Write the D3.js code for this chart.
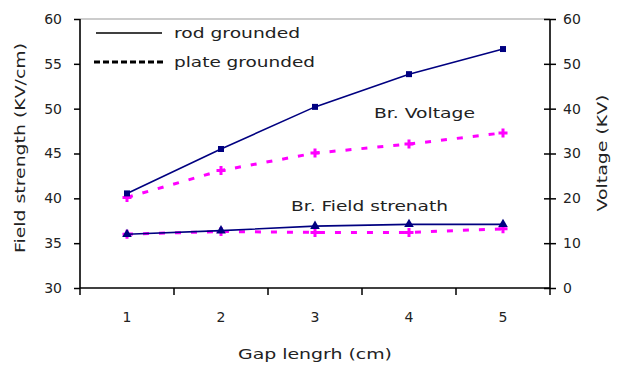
<!DOCTYPE html>
<html><head><meta charset="utf-8">
<script src="https://cdn.jsdelivr.net/npm/d3@7"></script>
<style>body{margin:0;background:#fff}svg{display:block}text{font-family:"DejaVu Sans",Verdana,sans-serif;fill:#222}</style>
</head><body><svg id="c" width="623" height="368"></svg>
<script>
const categories = ["1","2","3","4","5"];
const leftTicks = [30,35,40,45,50,55,60];
const rightTicks = [0,10,20,30,40,50,60];
// Breakdown voltage (KV) - right axis
const voltRod   = [21.1, 31.0, 40.4, 47.7, 53.3];
const voltPlate = [20.2, 26.2, 30.1, 32.1, 34.6];
// Breakdown field strength (KV/cm) - left axis
const fieldRod   = [36.0, 36.4, 36.9, 37.1, 37.1];
const fieldPlate = [36.0, 36.3, 36.2, 36.2, 36.6];

const svg = d3.select("#c");
const L=80, R=550, T=19, B=288;
const x = d3.scaleBand().domain(categories).range([L,R]).padding(0);
const yL = d3.scaleLinear().domain([30,60]).range([B,T]);
const yR = d3.scaleLinear().domain([0,60]).range([B,T]);
const cx = c => x(c)+x.bandwidth()/2;

// top border
svg.append("line").attr("x1",L).attr("x2",R).attr("y1",T).attr("y2",T).attr("stroke","#999").attr("stroke-width",1.2);

// left axis
const gl = svg.append("g").attr("transform",`translate(${L},0)`)
  .call(d3.axisLeft(yL).tickValues(leftTicks).tickSize(6).tickPadding(12).tickFormat(d3.format("d")));
// right axis
const gr = svg.append("g").attr("transform",`translate(${R},0)`)
  .call(d3.axisRight(yR).tickValues(rightTicks).tickSize(6).tickPadding(7).tickFormat(d3.format("d")));
gr.selectAll(".tick line").attr("x1",-6);
// bottom axis (labels at band centres)
const gb = svg.append("g").attr("transform",`translate(0,${B})`)
  .call(d3.axisBottom(x).tickSize(0).tickPadding(0));
gb.selectAll(".tick text").attr("y",34).attr("dy",0);
// boundary ticks
const bounds = categories.map(c=>x(c)).concat([R]);
gb.selectAll(".btick").data(bounds).enter().append("line")
  .attr("x1",d=>d).attr("x2",d=>d).attr("y1",0).attr("y2",7).attr("stroke","#000").attr("stroke-width",1.5);

[gl,gr,gb].forEach(g=>{
  g.selectAll(".domain").attr("stroke","#000").attr("stroke-width",1.6);
  g.selectAll(".tick line").attr("stroke","#000").attr("stroke-width",1.5);
  g.selectAll(".tick text").style("font-size","14px").attr("fill","#222").style("font-family","'DejaVu Sans',sans-serif");
});
gb.select(".domain").attr("d",`M${L},0H${R}`);
gl.select(".domain").attr("d",`M0,${B}V${T}`);
gr.select(".domain").attr("d",`M0,${B}V${T}`);

const navy="#000080", mag="#ff00ff";
const lineL = d3.line().x((d,i)=>cx(categories[i])).y(d=>yL(d));
const lineR = d3.line().x((d,i)=>cx(categories[i])).y(d=>yR(d));

function series(vals, gen, scale, color, dashed, sym, size){
  svg.append("path").datum(vals).attr("d",gen).attr("fill","none").attr("stroke",color)
    .attr("stroke-width",dashed?3:1.6).attr("stroke-dasharray",dashed?"6,10":null);
  svg.selectAll(null).data(vals).enter().append("path")
    .attr("transform",(d,i)=>`translate(${cx(categories[i])},${scale(d)})`)
    .attr("d",d3.symbol().type(sym).size(size)).attr("fill",color);
}
series(voltPlate, lineR, yR, mag, true, d3.symbolCross, 45);
series(fieldPlate, lineL, yL, mag, true, d3.symbolCross, 45);
series(voltRod, lineR, yR, navy, false, d3.symbolSquare, 36);
series(fieldRod, lineL, yL, navy, false, d3.symbolTriangle, 40);

// legend
svg.append("line").attr("x1",96).attr("x2",162).attr("y1",33).attr("y2",33).attr("stroke","#000").attr("stroke-width",1.5);
svg.append("line").attr("x1",94).attr("x2",164).attr("y1",62).attr("y2",62).attr("stroke","#000").attr("stroke-width",3).attr("stroke-dasharray","6,3");
function txt(s,xp,yp,len,opts={}){
  const t = svg.append("text").attr("x",xp).attr("y",yp).text(s).style("font-size",(opts.fs||14)+"px")
    .attr("textLength",len).attr("lengthAdjust","spacingAndGlyphs");
  if(opts.anchor) t.attr("text-anchor",opts.anchor);
  if(opts.rot) t.attr("transform",`rotate(${opts.rot},${xp},${yp})`);
  return t;
}
txt("rod grounded",174,38,126);
txt("plate grounded",174,67,141);
txt("Br. Voltage",374,118,101);
txt("Br. Field strenath",291,211,157);
txt("Gap lengrh (cm)",315,359,154,{anchor:"middle"});
txt("Field strength (KV/cm)",25,148,210,{anchor:"middle",rot:-90});
txt("Voltage (KV)",607,153,117,{anchor:"middle",rot:-90});
</script></body></html>
